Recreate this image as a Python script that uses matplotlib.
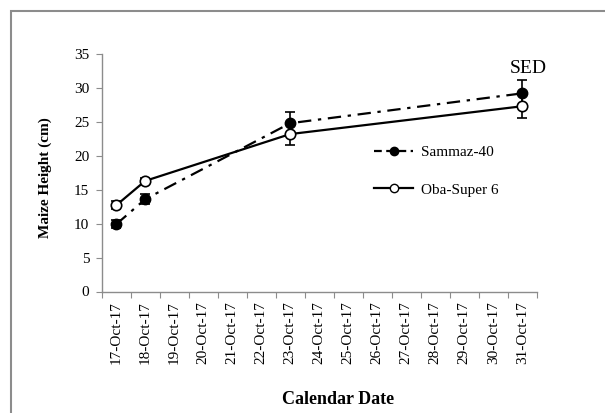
import matplotlib
matplotlib.use("Agg")
import matplotlib.pyplot as plt
from matplotlib.patches import Rectangle
from matplotlib.lines import Line2D

plt.rcParams['font.family'] = ['Liberation Serif', 'DejaVu Serif']

# ---- data ----
tick_labels = ["17-Oct-17", "18-Oct-17", "19-Oct-17", "20-Oct-17", "21-Oct-17",
               "22-Oct-17", "23-Oct-17", "24-Oct-17", "25-Oct-17", "26-Oct-17",
               "27-Oct-17", "28-Oct-17", "29-Oct-17", "30-Oct-17", "31-Oct-17"]
obs_days = [17, 18, 23, 31]
sammaz = [9.9, 13.6, 24.8, 29.2]
sammaz_err = [0.6, 0.7, 1.7, 1.9]
oba = [12.7, 16.3, 23.2, 27.3]
oba_err = [0.6, 0.5, 1.6, 1.8]
series_names = ["Sammaz-40", "Oba-Super 6"]
yticks = [0, 5, 10, 15, 20, 25, 30, 35]

W, H = 605, 413
fig = plt.figure(figsize=(W / 100, H / 100), dpi=100)

# outer frame
fig.patches.append(Rectangle((11 / W, -0.1), 1.2, 1 - 11 / H + 0.1,
                             transform=fig.transFigure, fill=False,
                             edgecolor="#8c8c8c", linewidth=1.5))

left, right, bottom, top = 101.7, 536.7, 291.5, 54
ax = fig.add_axes([left / W, 1 - bottom / H, (right - left) / W, (bottom - top) / H])

day0 = 17
xs = list(range(day0, day0 + len(tick_labels)))

ax.errorbar(obs_days, sammaz, yerr=sammaz_err, color="black",
            linestyle=(0, (6, 3, 1.5, 3)), linewidth=1.6,
            marker="o", markersize=7.5, markerfacecolor="black",
            markeredgecolor="black", capsize=3.5, elinewidth=1.2, capthick=1.2,
            zorder=3)
ax.errorbar(obs_days, oba, yerr=oba_err, color="black", linestyle="-",
            linewidth=1.6, marker="o", markersize=7.5, markerfacecolor="white",
            markeredgecolor="black", markeredgewidth=1.2, capsize=3.5,
            elinewidth=1.2, capthick=1.2, zorder=4)

ax.set_xlim(xs[0] - 0.5, xs[-1] + 0.5)
ax.set_ylim(0, 35)
ax.set_yticks(yticks)
ax.set_yticklabels([str(v) for v in yticks], fontsize=11)
ax.set_xticks([x - 0.5 for x in xs] + [xs[-1] + 0.5])
ax.set_xticklabels([])
ax.set_xticks(xs, minor=True)
ax.set_xticklabels(tick_labels, minor=True, rotation=90, fontsize=11)
ax.tick_params(axis="x", which="minor", length=0, pad=7)
ax.tick_params(axis="x", which="major", length=4, color="#8c8c8c", direction="out")
ax.tick_params(axis="y", length=4, color="#8c8c8c", direction="out", pad=5)

for s in ["top", "right"]:
    ax.spines[s].set_visible(False)
for s in ["left", "bottom"]:
    ax.spines[s].set_color("#8c8c8c")
    ax.spines[s].set_linewidth(1.0)

handles = [
    Line2D([], [], color="black", linestyle=(0, (3.5, 2)), linewidth=1.6,
           marker="o", markersize=6, markerfacecolor="black"),
    Line2D([], [], color="black", linestyle="-", linewidth=1.6, marker="o",
           markersize=6, markerfacecolor="white", markeredgewidth=1.0),
]
fig.legend(handles, series_names, loc="center left",
           bbox_to_anchor=(360 / W, 1 - 171 / H), frameon=False, fontsize=11,
           handlelength=2.6, labelspacing=1.55, handletextpad=0.5)

fig.text(528 / W, 1 - 73 / H, "SED", fontsize=14, ha="center", va="baseline")
fig.text(45 / W, 1 - 178 / H, "Maize Height (cm)", fontsize=11,
         fontweight="bold", rotation=90, ha="center", va="center")
fig.text(338 / W, 1 - 400 / H, "Calendar Date", fontsize=13,
         fontweight="bold", ha="center", va="center")

fig.savefig("out.png", dpi=100)
